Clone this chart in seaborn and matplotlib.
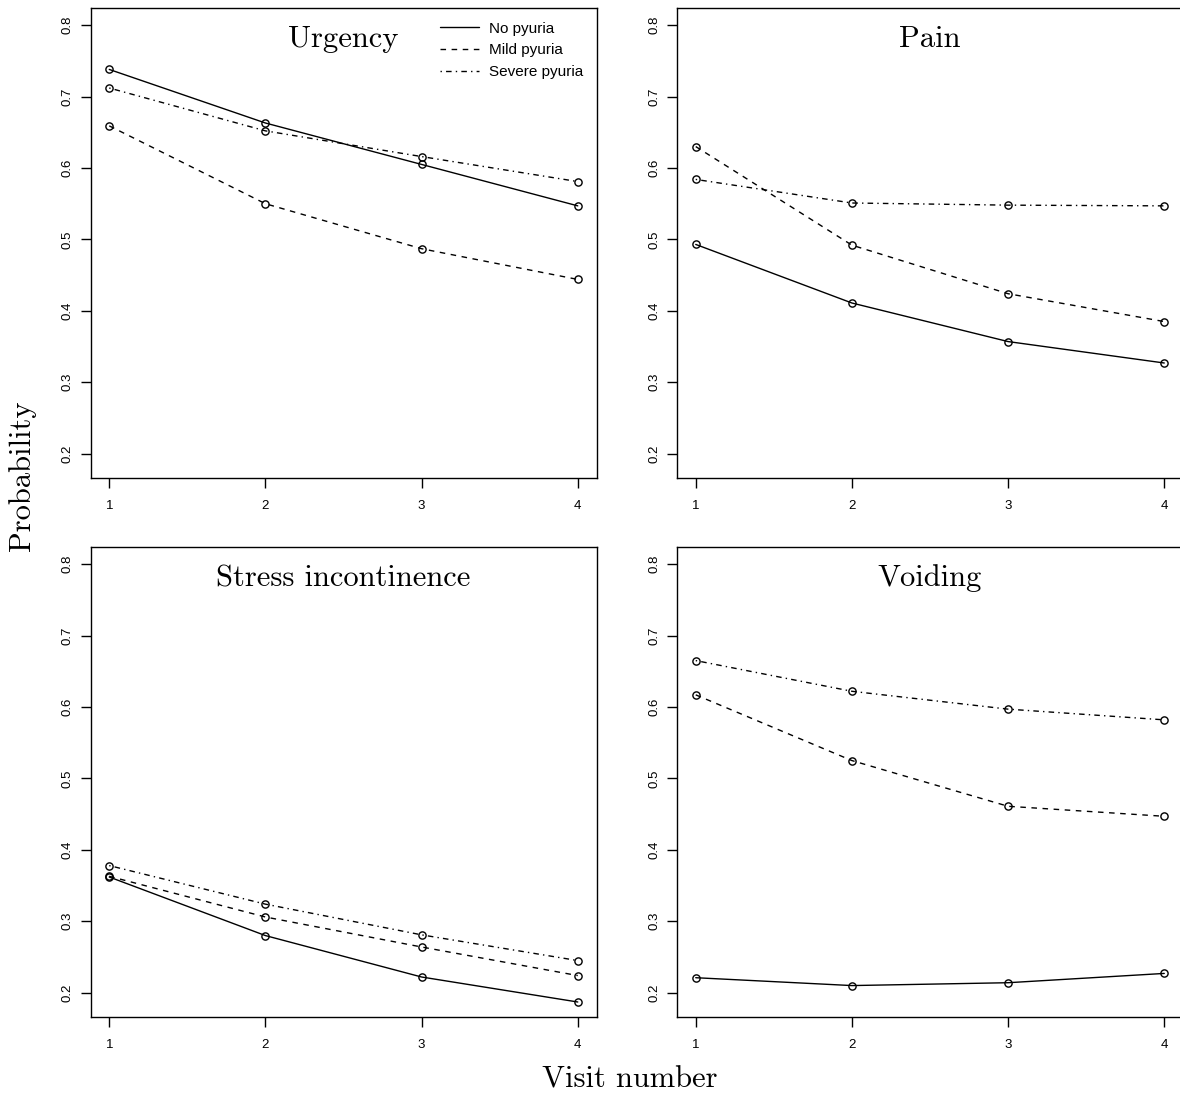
import numpy as np
import pandas as pd
import matplotlib
matplotlib.use("Agg")
import matplotlib.pyplot as plt
import matplotlib.lines as mlines
import seaborn as sns

visits = [1, 2, 3, 4]
groups = ["No pyuria", "Mild pyuria", "Severe pyuria"]
panels = ["Urgency", "Pain", "Stress incontinence", "Voiding"]

urgency_none = [0.738, 0.663, 0.605, 0.547]
urgency_mild = [0.659, 0.550, 0.487, 0.444]
urgency_severe = [0.712, 0.652, 0.616, 0.581]

pain_none = [0.493, 0.411, 0.357, 0.327]
pain_mild = [0.630, 0.492, 0.424, 0.385]
pain_severe = [0.584, 0.551, 0.548, 0.547]

stress_none = [0.362, 0.280, 0.222, 0.187]
stress_mild = [0.363, 0.306, 0.264, 0.224]
stress_severe = [0.378, 0.324, 0.281, 0.245]

voiding_none = [0.221, 0.210, 0.214, 0.227]
voiding_mild = [0.617, 0.525, 0.461, 0.447]
voiding_severe = [0.665, 0.622, 0.597, 0.582]

y_ticks = [0.2, 0.3, 0.4, 0.5, 0.6, 0.7, 0.8]

panel_values = {
    "Urgency": [urgency_none, urgency_mild, urgency_severe],
    "Pain": [pain_none, pain_mild, pain_severe],
    "Stress incontinence": [stress_none, stress_mild, stress_severe],
    "Voiding": [voiding_none, voiding_mild, voiding_severe],
}

rows = []
for panel, series in panel_values.items():
    for grp, vals in zip(groups, series):
        for v, p in zip(visits, vals):
            rows.append({"panel": panel, "group": grp, "visit": v, "prob": p})
df = pd.DataFrame(rows)

sns.set_style("white")
plt.rcParams["font.family"] = ["Liberation Sans", "DejaVu Sans"]
plt.rcParams["text.color"] = "black"
plt.rcParams["axes.labelcolor"] = "black"
plt.rcParams["xtick.color"] = "black"
plt.rcParams["ytick.color"] = "black"

serif = "cmr10"
dashes = {"No pyuria": "", "Mild pyuria": (4, 4), "Severe pyuria": (1, 3, 4, 3)}
markers = {g: "o" for g in groups}

fig = plt.figure(figsize=(11.8, 10.97), dpi=100)

W, H = 1180, 1097
lefts = [90.5, 677]
tops = [8, 547]
pw, ph = 506, 470

for i, panel in enumerate(panels):
    col, row = i % 2, i // 2
    ax = fig.add_axes([lefts[col] / W, 1 - (tops[row] + ph) / H, pw / W, ph / H])
    sub = df[df["panel"] == panel]
    sns.lineplot(
        data=sub, x="visit", y="prob", style="group", style_order=groups,
        dashes=dashes, markers=markers, color="black", linewidth=1,
        markersize=5.2, markerfacecolor="none", markeredgecolor="black",
        markeredgewidth=1, legend=False, ax=ax,
    )
    ax.set_xlim(0.88, 4.12)
    ax.set_ylim(0.166, 0.824)
    ax.set_xticks(visits)
    ax.set_yticks(y_ticks)
    ax.set_xticklabels([str(v) for v in visits])
    ax.set_yticklabels([f"{t:.1f}" for t in y_ticks], rotation=90, va="center")
    ax.tick_params(axis="both", direction="out", length=7, width=1,
                   color="black", labelcolor="black", labelsize=9.5,
                   bottom=True, left=True)
    ax.tick_params(axis="x", pad=9)
    ax.tick_params(axis="y", pad=5)
    ax.set_xlabel("")
    ax.set_ylabel("")
    for s in ax.spines.values():
        s.set_color("black")
        s.set_linewidth(1)
    ax.text(2.5, 0.78, panel, ha="center", va="center",
            fontsize=22, family=serif, color="black")

    if i == 0:
        handles = [
            mlines.Line2D([], [], color="black", lw=1, dashes=dashes[g] if dashes[g] else (None, None), label=g)
            for g in groups
        ]
        handles[0].set_linestyle("-")
        leg = ax.legend(handles=handles, loc="upper right", frameon=False,
                        fontsize=11, handlelength=2.6, handletextpad=0.6,
                        labelspacing=0.5, bbox_to_anchor=(1.0, 1.0))
        for t in leg.get_texts():
            t.set_color("black")

fig.text(630 / W, 1 - 1080 / H, "Visit number", ha="center", va="center",
         fontsize=22, family=serif, color="black")
fig.text(22 / W, 1 - 476 / H, "Probability", ha="center", va="center",
         rotation=90, fontsize=22, family=serif, color="black")

fig.savefig("out.png", dpi=100, facecolor="white")
